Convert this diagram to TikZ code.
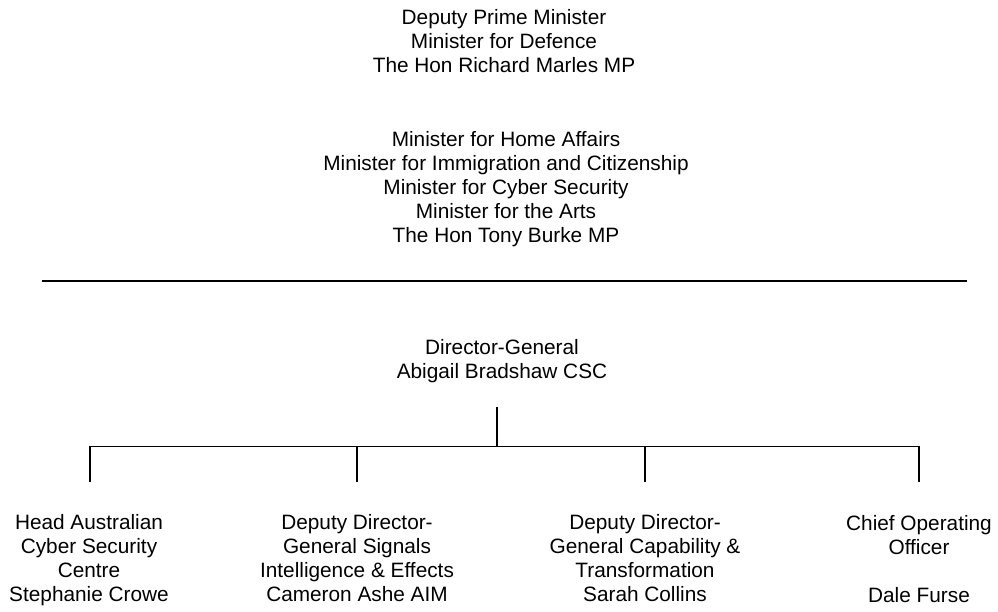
\documentclass[tikz,border=0pt]{standalone}
\usepackage{fontspec}
\setmainfont{Liberation Sans}
\usepackage{tikz}
\usetikzlibrary{positioning,calc}
\tikzset{every node/.append style={align=center}}

\begin{document}
\begin{tikzpicture}[x=1pt, y=1pt,
    office/.style={inner sep=0pt, anchor=base, font=\fontsize{20.8}{24}\selectfont},
    link/.style={line width=1.6pt, line cap=rect}]
    \useasboundingbox (0,0) rectangle (998,612);

    % Ministers
    \node[office] (dpm) at (504, 539) {Deputy Prime Minister\\Minister for Defence\\The Hon Richard Marles MP};
    \node[office] (hma) at (506, 369) {Minister for Home Affairs\\Minister for Immigration and Citizenship\\Minister for Cyber Security\\Minister for the Arts\\The Hon Tony Burke MP};

    % Rule
    \coordinate (ruleW) at (42, 330.5);
    \coordinate (ruleE) at (967, 330.5);
    \draw[line width=2pt] (ruleW) -- (ruleE);

    % Director-General
    \node[office] (dg) at (502, 233) {Director-General\\Abigail Bradshaw CSC};
    \coordinate (dgstem) at (497, 204.5);
    \coordinate (bus) at (497, 165.5);

    % Deputies
    \node[office] (acsc) at (89, 10) {Head Australian\\Cyber Security\\Centre\\Stephanie Crowe};
    \node[office] (sigint) at (357, 10) {Deputy Director-\\General Signals\\Intelligence \& Effects\\Cameron Ashe AIM};
    \node[office] (capab) at (645, 10) {Deputy Director-\\General Capability \&\\Transformation\\Sarah Collins};
    \node[office] (coo) at (919, 9) {Chief Operating\\Officer\\[24pt]Dale Furse};

    \coordinate (acsc-in) at (90, 130.5);
    \coordinate (sigint-in) at (357, 130.5);
    \coordinate (capab-in) at (645, 130.5);
    \coordinate (coo-in) at (919, 130.5);

    % Connectors
    \draw[link] (dgstem) -- (bus);
    \draw[link] (acsc-in |- bus) -- (coo-in |- bus);
    \foreach \n in {acsc, sigint, capab, coo}
        \draw[link] (\n-in |- bus) -- (\n-in);
\end{tikzpicture}
\end{document}
